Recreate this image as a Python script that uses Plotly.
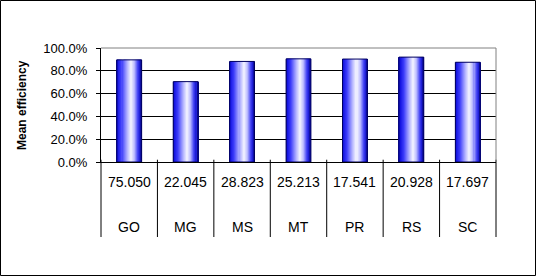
import plotly.graph_objects as go

categories = ["GO", "MG", "MS", "MT", "PR", "RS", "SC"]
efficiency = [0.896, 0.705, 0.882, 0.905, 0.903, 0.920, 0.875]
table_values = ["75.050", "22.045", "28.823", "25.213", "17.541", "20.928", "17.697"]
y_ticks = [0, 0.2, 0.4, 0.6, 0.8, 1.0]
y_tick_labels = ["0.0%", "20.0%", "40.0%", "60.0%", "80.0%", "100.0%"]

W_PX, H_PX = 536, 276
L, R, T, B = 101, 40, 48, 114
PW, PH = W_PX - L - R, H_PX - T - B

BAR_W = 0.44
N = 24

# gradient profile (style only)
stops = [(0.0, (20, 20, 150)), (0.06, (20, 20, 225)), (0.2, (60, 60, 250)),
         (0.42, (175, 175, 255)), (0.58, (245, 245, 255)), (0.72, (190, 190, 255)),
         (0.86, (70, 70, 245)), (0.95, (25, 25, 210)), (1.0, (10, 10, 130))]


def grad(t):
    for (t0, c0), (t1, c1) in zip(stops[:-1], stops[1:]):
        if t0 <= t <= t1:
            f = (t - t0) / (t1 - t0) if t1 > t0 else 0
            return "rgb(%d,%d,%d)" % tuple(round(a + (b - a) * f) for a, b in zip(c0, c1))
    return "rgb(10,10,130)"


fig = go.Figure()
sw = BAR_W / N
for i in range(N):
    fig.add_trace(go.Bar(
        x=categories, y=efficiency, width=sw * 1.05, offset=-BAR_W / 2 + i * sw,
        marker=dict(color=grad((i + 0.5) / N), line=dict(width=0)),
        showlegend=False, hoverinfo="skip"))
fig.add_trace(go.Bar(
    x=categories, y=efficiency, width=BAR_W, offset=-BAR_W / 2,
    marker=dict(color="rgba(0,0,0,0)", line=dict(color="#000060", width=1)),
    showlegend=False, hoverinfo="skip"))

shapes = []
n = len(categories)
# table vertical lines
for i in range(n + 1):
    shapes.append(dict(type="line", xref="paper", yref="paper", x0=i / n, x1=i / n,
                       y0=0.02, y1=-75 / PH, line=dict(color="black", width=1)))
# plot area border top/right (gray)
shapes.append(dict(type="line", xref="paper", yref="paper", x0=0, x1=1, y0=1, y1=1,
                   line=dict(color="#808080", width=1)))
shapes.append(dict(type="line", xref="paper", yref="paper", x0=1, x1=1, y0=0, y1=1,
                   line=dict(color="#808080", width=1)))
# outer border
shapes.append(dict(type="rect", xref="paper", yref="paper",
                   x0=(-L + 0.5) / PW, x1=1 + (R - 0.5) / PW,
                   y0=(-B + 0.5) / PH, y1=1 + (T - 0.5) / PH,
                   line=dict(color="black", width=1), fillcolor="rgba(0,0,0,0)"))

annotations = []
for c, v in zip(categories, table_values):
    annotations.append(dict(x=c, xref="x", yref="paper", y=-20 / PH, text=v,
                            showarrow=False, font=dict(size=14, color="black"),
                            xanchor="center", yanchor="middle"))
    annotations.append(dict(x=c, xref="x", yref="paper", y=-64.5 / PH, text=c,
                            showarrow=False, font=dict(size=14, color="black"),
                            xanchor="center", yanchor="middle"))
annotations.append(dict(x=(22 - L) / PW, xref="paper", y=0.5, yref="paper",
                        text="<b>Mean efficiency</b>", textangle=-90, showarrow=False,
                        font=dict(size=12, color="black"), xanchor="center", yanchor="middle"))

fig.update_layout(
    width=W_PX, height=H_PX, margin=dict(l=L, r=R, t=T, b=B),
    paper_bgcolor="white", plot_bgcolor="white",
    barmode="overlay",
    font=dict(family="Liberation Sans, Arial, sans-serif", size=12, color="black"),
    xaxis=dict(type="category", range=[-0.5, n - 0.5], showticklabels=False,
               showgrid=False, showline=True, linecolor="black", linewidth=1,
               ticks="", zeroline=False),
    yaxis=dict(range=[0, 1], tickvals=y_ticks, ticktext=y_tick_labels,
               showgrid=True, gridcolor="black", gridwidth=1,
               showline=True, linecolor="black", linewidth=1,
               ticks="outside", ticklen=4, tickcolor="black",
               ticklabelstandoff=6, zeroline=False,
               tickfont=dict(size=13, color="black")),
    shapes=shapes, annotations=annotations,
)

fig.write_html("out.html")
